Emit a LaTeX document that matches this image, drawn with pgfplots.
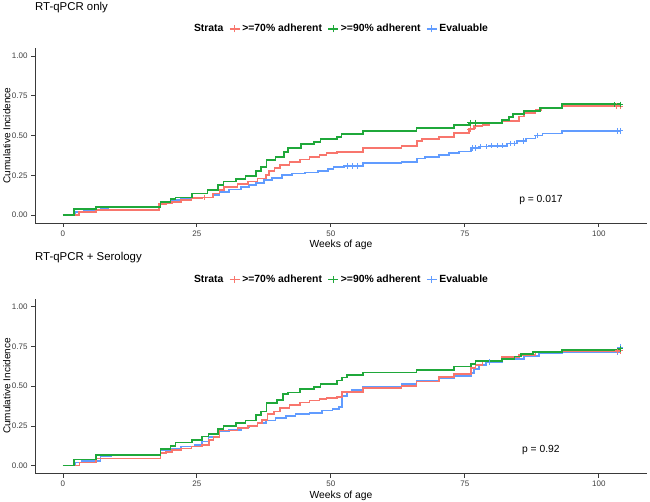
\documentclass[border=0pt]{standalone}
\usepackage{pgfplots}
\pgfplotsset{compat=1.18}
\usepackage{fontspec}
\setmainfont{Liberation Sans}
\definecolor{cR}{HTML}{F8766D}
\definecolor{cG}{HTML}{1FA83A}
\definecolor{cB}{HTML}{619CFF}
\definecolor{axgray}{HTML}{3A3A3A}

\pgfplotsset{
  km/.style={
    scale only axis, width=612pt, height=175pt,
    xmin=-5.2, xmax=109, ymin=-0.05, ymax=1.05,
    axis x line*=bottom, axis y line*=left,
    axis line style={axgray, line width=0.9pt, -},
    xtick={0,25,50,75,100}, ytick={0,0.25,0.5,0.75,1},
    yticklabels={0.00,0.25,0.50,0.75,1.00},
    tick align=outside, major tick length=4pt,
    tick style={axgray, line width=0.7pt},
    ticklabel style={font=\fontsize{8}{10}\selectfont, text=black!75},
    /pgf/number format/assume math mode=true,
    xlabel={Weeks of age}, ylabel={Cumulative Incidence},
    label style={font=\fontsize{10.3}{12}\selectfont},
    xlabel style={yshift=3pt},
    every axis y label/.style={at={(axis description cs:-0.046,0.5)}, rotate=90, anchor=center},
    clip=false,
    legend style={at={(0.5,1.109)}, anchor=center, draw=none, fill=none,
      font=\bfseries\fontsize{10.4}{12}\selectfont,
      /tikz/every even column/.append style={column sep=3.5pt},
      /tikz/every odd column/.append style={column sep=0pt}},
    legend columns=-1,
    legend image code/.code={\draw[#1] (0pt,0pt) -- (10pt,0pt); \draw[#1, line width=0.9pt] (5pt,-3.5pt) -- (5pt,3.5pt);},
  },
  kmline/.style={const plot, line width=1.7pt, forget plot, mark=none},
  cens/.style={only marks, mark=+, mark size=2.8pt, line width=0.8pt, forget plot},
}

\begin{document}
\begin{tikzpicture}[x=1pt,y=1pt]
\useasboundingbox (0,0) rectangle (650,502);

\node[anchor=base west, inner sep=0pt, font=\fontsize{11.4}{13}\selectfont] at (35,491) {RT-qPCR only};
\node[anchor=base west, inner sep=0pt, font=\fontsize{11.4}{13}\selectfont] at (35,241.3) {RT-qPCR + Serology};

% ---------------- Top panel ----------------
\begin{axis}[km, at={(35pt,279pt)}, anchor=south west]
\addlegendimage{empty legend}\addlegendentry{Strata}
\addlegendimage{color=cR, line width=1.3pt}\addlegendentry{>=70\% adherent}
\addlegendimage{color=cG, line width=1.3pt}\addlegendentry{>=90\% adherent}
\addlegendimage{color=cB, line width=1.3pt}\addlegendentry{Evaluable}

\addplot[kmline, color=cB] table {
0 0
2.2 0.021
4 0.03
7 0.046
8.5 0.052
18.2 0.084
20.4 0.094
22 0.105
24.6 0.111
28 0.126
29.2 0.147
31 0.161
33.2 0.178
34.7 0.189
36 0.203
37.5 0.22
39 0.235
40.9 0.25
42.7 0.262
45.2 0.268
47.6 0.279
49.5 0.289
50.5 0.30
52.4 0.31
56 0.325
63.2 0.335
66.1 0.356
67.6 0.367
70.2 0.377
72 0.388
73.9 0.40
76.1 0.42
77.6 0.43
79.5 0.436
82.9 0.45
84.8 0.465
86.4 0.482
88.2 0.50
89.5 0.513
93.2 0.53
104 0.53
};
\addplot[kmline, color=cR] table {
0 0
3 0.019
6.2 0.031
18 0.069
19.2 0.075
20.4 0.084
22 0.094
24 0.105
26 0.11
28 0.136
29.2 0.157
30.1 0.178
32.6 0.195
34.5 0.21
36.3 0.23
37.9 0.25
38.5 0.277
39.5 0.294
40.5 0.314
42.3 0.335
44.2 0.35
46 0.363
47.9 0.377
49.2 0.388
51.2 0.398
56 0.42
63.2 0.434
66.1 0.465
67 0.476
70.2 0.492
73 0.514
75.8 0.539
76.7 0.56
78.3 0.566
79.5 0.577
82 0.59
85.1 0.62
86 0.64
88.2 0.66
89.2 0.672
93.2 0.685
104 0.685
};
\addplot[kmline, color=cG] table {
0 0
2.1 0.036
6.2 0.05
18.2 0.084
20.1 0.103
21 0.11
24.1 0.136
27 0.157
29 0.189
30 0.21
32.3 0.228
34.1 0.247
36 0.277
37 0.30
38 0.346
39.7 0.367
41.2 0.398
42 0.42
44.4 0.445
46.8 0.457
48.1 0.476
51.2 0.492
52 0.508
56 0.528
66 0.545
73 0.566
75.8 0.58
82 0.597
83.3 0.618
84 0.633
86 0.654
89 0.675
93.1 0.696
104 0.696
};
\addplot[cens, color=cB] table {
53 0.31
54 0.31
55 0.31
76.5 0.42
77 0.42
78 0.43
79 0.43
80 0.436
81 0.436
82 0.436
83.5 0.45
84.2 0.45
86 0.465
88.5 0.50
103.5 0.53
104 0.53
};
\addplot[cens, color=cR] table {
26.5 0.11
76 0.539
77 0.56
103.3 0.685
104 0.685
};
\addplot[cens, color=cG] table {
76 0.58
77 0.58
103 0.696
104 0.696
};
\node[font=\fontsize{10.3}{12}\selectfont] at (axis cs:89.2,0.094) {p = 0.017};
\end{axis}

% ---------------- Bottom panel ----------------
\begin{axis}[km, at={(35pt,28.4pt)}, anchor=south west]
\addlegendimage{empty legend}\addlegendentry{Strata}
\addlegendimage{color=cR, line width=1.3pt}\addlegendentry{>=70\% adherent}
\addlegendimage{color=cG, line width=1.3pt}\addlegendentry{>=90\% adherent}
\addlegendimage{color=cB, line width=1.3pt}\addlegendentry{Evaluable}

\addplot[kmline, color=cB] table {
0 0
2.2 0.02
3.5 0.03
7 0.06
9 0.067
18.2 0.099
20.4 0.108
22 0.12
24.6 0.13
26 0.151
27.2 0.178
29.2 0.214
31 0.225
33.2 0.24
34.7 0.25
36.3 0.267
37.9 0.283
39.7 0.298
41.6 0.313
43.4 0.325
46 0.333
48.4 0.346
50.3 0.356
51.5 0.367
52.1 0.438
53 0.465
54 0.476
56 0.497
63.2 0.514
66 0.533
70.2 0.55
73 0.564
76.1 0.581
76.7 0.606
77.6 0.633
78.9 0.65
82 0.669
86 0.69
88.8 0.707
93.1 0.713
104 0.713
104 0.745
};
\addplot[kmline, color=cR] table {
0 0
3.1 0.019
6.2 0.044
18.2 0.078
19.2 0.085
20.4 0.099
22 0.108
24 0.12
26 0.13
27.3 0.162
28.1 0.179
29.2 0.22
32.6 0.235
34.5 0.248
36.3 0.267
37.2 0.288
38.2 0.323
39.4 0.34
40.5 0.361
42.3 0.382
44.2 0.396
46 0.409
47.9 0.417
49.2 0.424
51.2 0.43
52.1 0.465
56 0.487
63.2 0.501
66 0.528
70.2 0.556
73 0.577
76.1 0.612
77 0.633
78.3 0.654
82 0.682
85.1 0.695
88.2 0.717
93.1 0.722
104 0.722
};
\addplot[kmline, color=cG] table {
0 0
2.1 0.038
6.2 0.067
18.2 0.105
20.1 0.124
21 0.145
24.1 0.162
26 0.183
27.2 0.197
29 0.231
30 0.25
32.3 0.267
34.1 0.283
36 0.319
37 0.34
38 0.392
40 0.413
41.1 0.449
42 0.459
44.2 0.48
46.8 0.493
48.1 0.514
51.2 0.535
52.1 0.554
53 0.57
56 0.585
66 0.602
73 0.623
76.1 0.64
77 0.657
82 0.669
84.3 0.686
85.5 0.702
87.7 0.713
93.1 0.728
104 0.728
104 0.74
};
\addplot[cens, color=cB] table {
79.5 0.65
103.5 0.713
104 0.745
};
\addplot[cens, color=cR] table {
103.5 0.722
104 0.722
};
\addplot[cens, color=cG] table {
104 0.735
};
\node[font=\fontsize{10.3}{12}\selectfont] at (axis cs:89.2,0.099) {p = 0.92};
\end{axis}
\end{tikzpicture}
\end{document}
